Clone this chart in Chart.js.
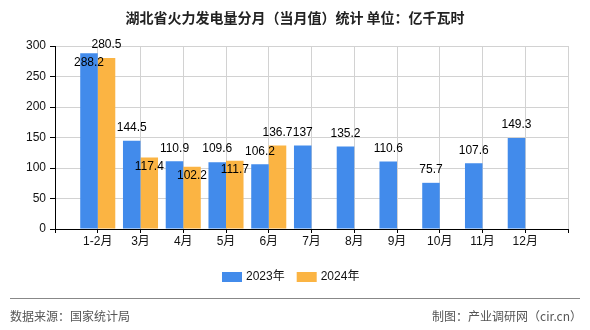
<!DOCTYPE html>
<html>
<head>
<meta charset="utf-8">
<script src="https://cdn.jsdelivr.net/npm/chart.js@4/dist/chart.umd.min.js"></script>
<style>
  html, body { margin: 0; padding: 0; background: #fff; }
  #wrap { width: 590px; height: 330px; }
</style>
</head>
<body>
<div id="wrap"><canvas id="c" width="590" height="330"></canvas></div>
<script>
// --- data (blank slots at both ends keep the axis margins of the original) ---
const months = ['', '1-2月', '3月', '4月', '5月', '6月', '7月', '8月', '9月', '10月', '11月', '12月', ''];
const values2023 = [null, 288.2, 144.5, 110.9, 109.6, 106.2, 137, 135.2, 110.6, 75.7, 107.6, 149.3, null];
const values2024 = [null, 280.5, 117.4, 102.2, 111.7, 136.7, null, null, null, null, null, null, null];
const yTicks = [0, 50, 100, 150, 200, 250, 300];

const BLUE = '#428BEB';
const ORANGE = '#FBB443';
const NUM_FONT = '12px "Liberation Sans", "Noto Sans CJK SC", sans-serif';

// where each value label sits: 'up' above the bar top, 'in' just under it
const labelPlace = [
  ['', 'in', 'up', 'up', 'up', 'up', 'up', 'up', 'up', 'up', 'up', 'up', ''],
  ['', 'up', 'in', 'in', 'in', 'up', '', '', '', '', '', '', '']
];

const valueLabels = {
  id: 'valueLabels',
  afterDatasetsDraw(chart) {
    const ctx = chart.ctx;
    ctx.save();
    ctx.font = NUM_FONT;
    ctx.fillStyle = '#000';
    ctx.textAlign = 'center';
    ctx.textBaseline = 'middle';
    chart.data.datasets.forEach((ds, di) => {
      chart.getDatasetMeta(di).data.forEach((bar, i) => {
        const v = ds.data[i];
        if (v == null) return;
        const y = labelPlace[di][i] === 'in' ? bar.y + 9 : bar.y - 13;
        ctx.fillText(String(v), bar.x, y);
      });
    });
    ctx.restore();
  }
};

const decorations = {
  id: 'decorations',
  afterDraw(chart) {
    const ctx = chart.ctx;
    ctx.save();
    // title
    ctx.fillStyle = '#222';
    ctx.font = 'bold 14px "Noto Sans CJK SC", sans-serif';
    ctx.textAlign = 'center';
    ctx.textBaseline = 'middle';
    ctx.fillText('湖北省火力发电量分月（当月值）统计 单位：亿千瓦时', 295, 18);

    // legend
    ctx.font = '12px "Liberation Sans", "Noto Sans CJK SC", sans-serif';
    ctx.textAlign = 'left';
    let x = 222;
    chart.data.datasets.forEach(ds => {
      ctx.fillStyle = ds.backgroundColor;
      ctx.fillRect(x, 272, 20, 10);
      ctx.fillStyle = '#111';
      ctx.fillText(ds.label, x + 24, 277);
      x += 24 + ctx.measureText(ds.label).width + 12;
    });

    // footer
    ctx.strokeStyle = '#888';
    ctx.lineWidth = 1;
    ctx.beginPath();
    ctx.moveTo(10, 298.5);
    ctx.lineTo(580, 298.5);
    ctx.stroke();
    ctx.fillStyle = '#555';
    ctx.font = '12px "Noto Sans CJK SC", sans-serif';
    ctx.fillText('数据来源：国家统计局', 10, 316);
    ctx.textAlign = 'right';
    ctx.fillText('制图：产业调研网（cir.cn）', 582, 316);
    ctx.restore();
  }
};

new Chart(document.getElementById('c'), {
  type: 'bar',
  data: {
    labels: months,
    datasets: [
      { label: '2023年', data: values2023, backgroundColor: BLUE },
      { label: '2024年', data: values2024, backgroundColor: ORANGE }
    ]
  },
  options: {
    responsive: false,
    devicePixelRatio: 1,
    animation: false,
    categoryPercentage: 0.82,
    barPercentage: 1,
    layout: { padding: { top: 46, right: 22, bottom: 71, left: 0 } },
    plugins: {
      legend: { display: false },
      title: { display: false },
      tooltip: { enabled: false }
    },
    scales: {
      x: {
        offset: false,
        grid: { color: '#d2d2d2', offset: false, tickColor: '#000', tickLength: 4 },
        border: { color: '#000', width: 1 },
        ticks: {
          color: '#111',
          font: { size: 12, family: '"Liberation Sans", "Noto Sans CJK SC", sans-serif' },
          padding: 1,
          maxRotation: 0,
          autoSkip: false
        },
        afterFit(scale) { scale.height = 30; }
      },
      y: {
        min: 0,
        max: 300,
        afterBuildTicks(scale) { scale.ticks = yTicks.map(v => ({ value: v })); },
        grid: { color: '#d2d2d2', tickColor: '#000', tickLength: 5 },
        border: { color: '#000', width: 1 },
        ticks: {
          color: '#111',
          font: { size: 12, family: '"Liberation Sans", sans-serif' },
          padding: 4
        },
        afterFit(scale) { scale.width = 55; }
      }
    }
  },
  plugins: [valueLabels, decorations]
});
</script>
</body>
</html>
